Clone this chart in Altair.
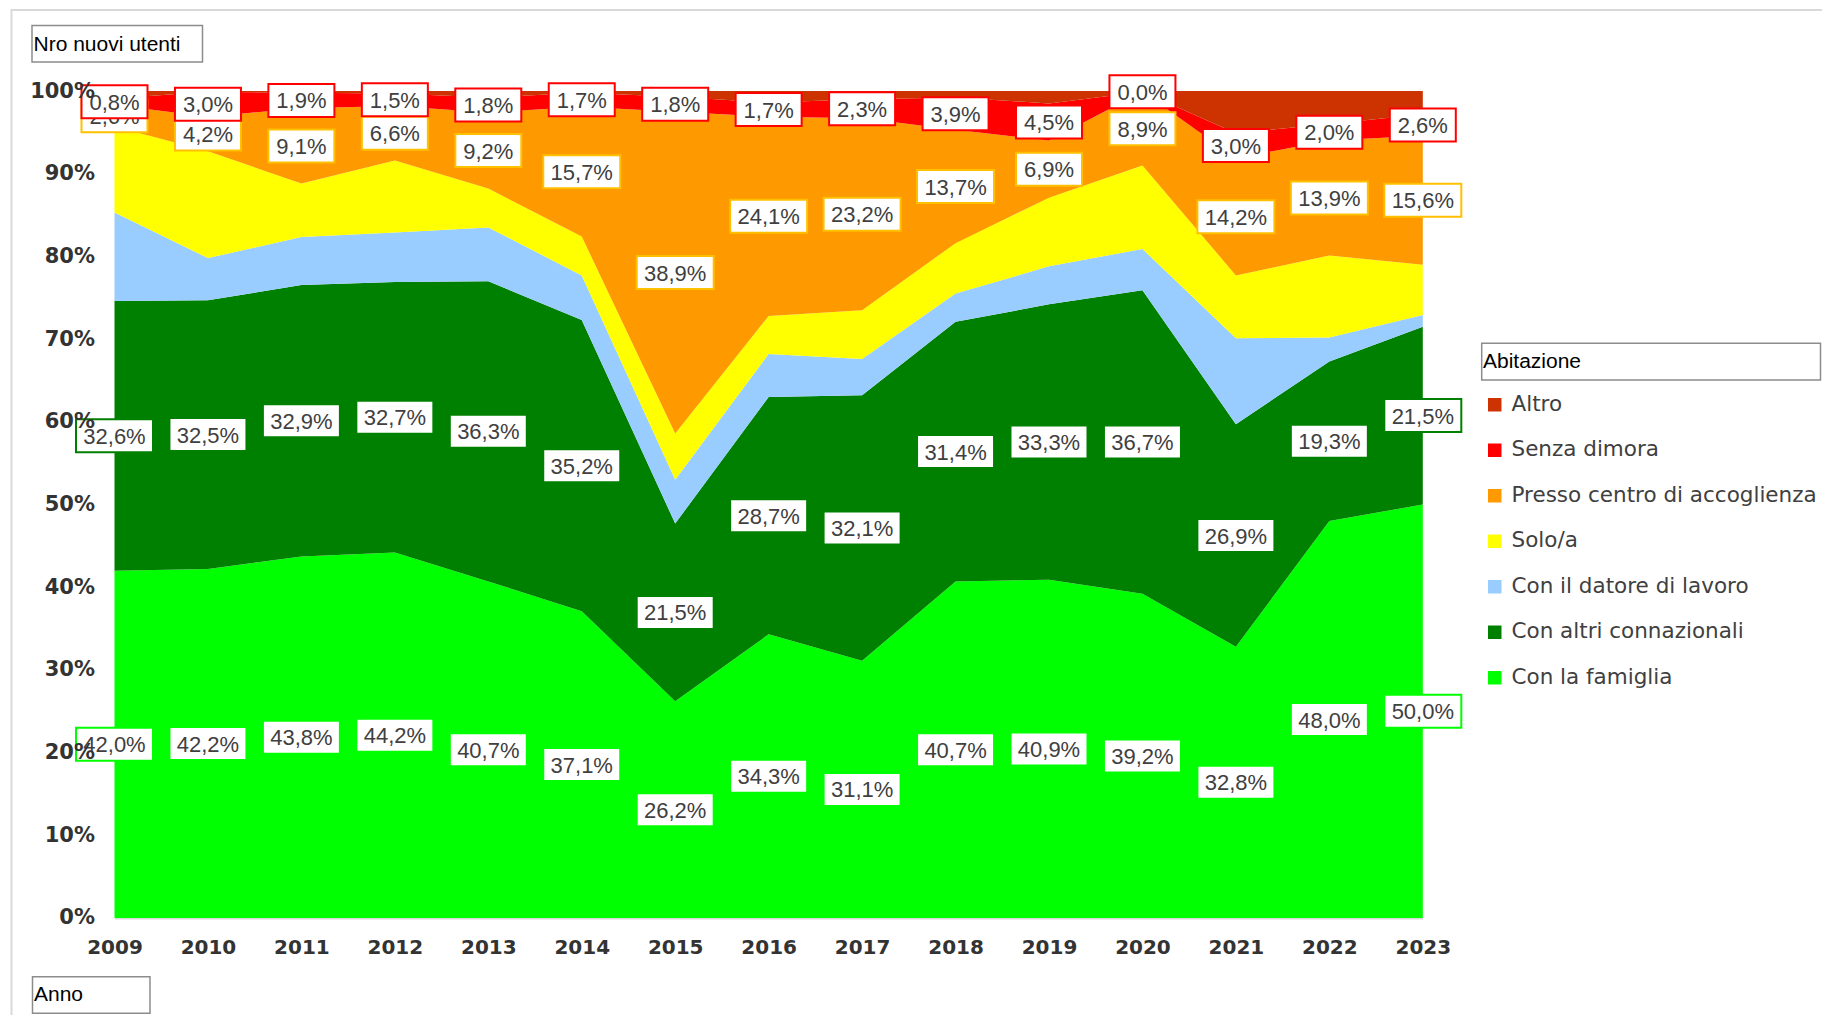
import altair as alt
import pandas as pd

# ---------------- data ----------------
years = list(range(2009, 2024))

con_la_famiglia = [42.0, 42.2, 43.8, 44.2, 40.7, 37.1, 26.2, 34.3, 31.1, 40.7, 40.9, 39.2, 32.8, 48.0, 50.0]
con_altri_connazionali = [32.6, 32.5, 32.9, 32.7, 36.3, 35.2, 21.5, 28.7, 32.1, 31.4, 33.3, 36.7, 26.9, 19.3, 21.5]
con_il_datore = [10.7, 5.1, 5.8, 6.0, 6.5, 5.4, 5.3, 5.2, 4.4, 3.4, 4.6, 5.0, 10.4, 2.9, 1.4]
solo_a = [10.4, 12.9, 6.5, 8.7, 4.7, 4.7, 5.6, 4.6, 5.9, 6.1, 8.3, 10.1, 7.6, 9.9, 6.1]
presso_centro = [2.6, 4.2, 9.1, 6.6, 9.2, 15.7, 38.9, 24.1, 23.2, 13.7, 6.9, 8.9, 14.2, 13.9, 15.6]
senza_dimora = [0.8, 3.0, 1.9, 1.5, 1.8, 1.7, 1.8, 1.7, 2.3, 3.9, 4.5, 0.0, 3.0, 2.0, 2.6]
altro = [0.9, 0.1, 0.2, 0.3, 0.8, 0.2, 0.7, 1.4, 1.0, 0.8, 1.5, 0.1, 5.1, 4.0, 2.8]

series_names = ["Con la famiglia", "Con altri connazionali", "Con il datore di lavoro",
                "Solo/a", "Presso centro di accoglienza", "Senza dimora", "Altro"]
series_values = [con_la_famiglia, con_altri_connazionali, con_il_datore, solo_a,
                 presso_centro, senza_dimora, altro]
series_colors = ["#00FF00", "#008000", "#99CCFF", "#FFFF00", "#FF9900", "#FF0000", "#CC3300"]

labelled = ["Con la famiglia", "Con altri connazionali", "Presso centro di accoglienza", "Senza dimora"]
label_border = {"Con la famiglia": "#00FF00", "Con altri connazionali": "#008000",
                "Presso centro di accoglienza": "#FFC000", "Senza dimora": "#FF0000"}

rows = []
for k, (name, vals) in enumerate(zip(series_names, series_values)):
    for yr, v in zip(years, vals):
        rows.append({"anno": yr, "abitazione": name, "v": v, "ord": k})
df = pd.DataFrame(rows)

legend_order = series_names[::-1]
legend_colors = series_colors[::-1]

# ---------------- chart ----------------
base = alt.Chart(df).transform_stack(
    stack="v", groupby=["anno"], as_=["lo", "hi"], offset="normalize",
    sort=[alt.SortField("ord", order="ascending")]
).transform_calculate(
    mid="(datum.lo + datum.hi) / 2",
    lab="replace(format(datum.v, '.1f'), '.', ',') + '%'"
)

x_enc = alt.X(
    "anno:Q",
    scale=alt.Scale(domain=[2009, 2023], nice=False, zero=False),
    axis=alt.Axis(values=years, format="d", title=None, ticks=False, grid=False,
                  domainColor="#d9d9d9", domainWidth=2,
                  labelFont="DejaVu Sans", labelFontWeight="bold", labelFontSize=20,
                  labelColor="#333333", labelPadding=20, labelFlush=False),
)
y_enc = alt.Y(
    "lo:Q",
    scale=alt.Scale(domain=[0, 1], nice=False),
    axis=alt.Axis(values=[i / 10 for i in range(11)], format=".0%", title=None,
                  ticks=False, grid=False, domain=False, zindex=1,
                  labelFont="DejaVu Sans", labelFontWeight="bold", labelFontSize=21,
                  labelColor="#333333", labelPadding=20),
)

area = base.mark_area(interpolate="linear").encode(
    x=x_enc,
    y=y_enc,
    y2="hi:Q",
    color=alt.Color(
        "abitazione:N",
        scale=alt.Scale(domain=legend_order, range=legend_colors),
        legend=alt.Legend(
            title=None, orient="none", legendX=1369.5, legendY=303,
            symbolType="square", symbolSize=182, symbolStrokeWidth=0,
            labelFont="DejaVu Sans", labelFontSize=21.5, labelColor="#404040",
            labelOffset=6, rowPadding=22.5, padding=0, labelLimit=400,
        ),
    ),
)

layers = [area]
for name in labelled:
    sub = base.transform_filter(alt.datum.abitazione == name)
    for cond, w in (("datum.v < 10", 66), ("datum.v >= 10", 77)):
        layers.append(
            sub.transform_filter(cond).mark_rect(
                width=w, height=33, fill="white", stroke=label_border[name], strokeWidth=2
            ).encode(x=alt.X("anno:Q"), y=alt.Y("mid:Q"))
        )
    layers.append(
        sub.mark_text(font="Liberation Sans", fontSize=22, color="#404040",
                      align="center", baseline="middle", dy=1).encode(
            x=alt.X("anno:Q"), y=alt.Y("mid:Q"), text="lab:N")
    )

# annotation boxes (chart frame, axis title boxes, legend title box)
frame = alt.Chart(pd.DataFrame({"k": [0]})).mark_rect(
    fill=None, stroke="#d9d9d9", strokeWidth=2
).encode(x=alt.value(-103), x2=alt.value(1720), y=alt.value(-81), y2=alt.value(960))

def box(x1, y1, x2, y2, txt, tx, ty):
    d = alt.Chart(pd.DataFrame({"t": [txt]}))
    r = d.mark_rect(fill="white", stroke="#8c8c8c", strokeWidth=1.5).encode(
        x=alt.value(x1), x2=alt.value(x2), y=alt.value(y1), y2=alt.value(y2))
    t = d.mark_text(align="left", baseline="middle", font="Liberation Sans",
                    fontSize=21, color="#000000").encode(
        x=alt.value(tx), y=alt.value(ty), text="t:N")
    return [r, t]

annots = []
annots += box(-82.5, -65.5, 88, -29, "Nro nuovi utenti", -81, -46.5)
annots += box(-82, 885.7, 35.5, 922.3, "Anno", -80.5, 904.5)
annots += box(1367.2, 252.3, 1706, 289, "Abitazione", 1368.5, 271)

chart = alt.layer(frame, *layers, *annots).properties(
    width=1308.3, height=827,
    padding={"left": 106.5, "top": 83, "right": 399, "bottom": 97},
    autosize=alt.AutoSizeParams(type="none"),
).configure_view(stroke=None)

chart.save("out.html", embed_options={"renderer": "svg", "actions": False})
